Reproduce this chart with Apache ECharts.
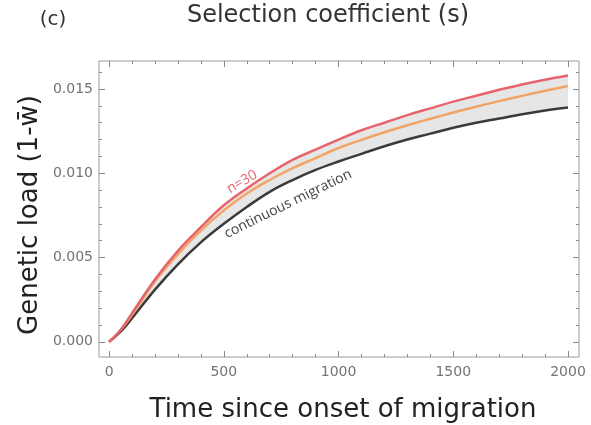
<!DOCTYPE html>
<html><head><meta charset="utf-8">
<script src="https://cdn.jsdelivr.net/npm/echarts@6/dist/echarts.min.js"></script>
<style>html,body{margin:0;padding:0;background:#fff}#c{width:591px;height:425px}</style>
</head><body><div id="c"></div>
<script>
const time = [0,50,100,200,300,400,500,600,700,800,900,1000,1100,1200,1300,1400,1500,1600,1700,1800,1900,2000];
const loadN30 = [0,0.0007,0.0017,0.0037,0.0054,0.0068,0.0081,0.0091,0.0100,0.0108,0.0114,0.0120,0.01255,0.0130,0.01345,0.01385,0.01425,0.0146,0.01495,0.01527,0.01555,0.0158];
const loadMid = [0,0.0007,0.0016,0.0036,0.0052,0.0066,0.0078,0.0088,0.0096,0.0103,0.0109,0.0115,0.01198,0.01243,0.01285,0.01323,0.0136,0.01395,0.01428,0.01459,0.01489,0.01518];
const loadCont = [0,0.0006,0.0014,0.0031,0.0046,0.0059,0.0070,0.0080,0.0089,0.0096,0.0102,0.0107,0.01115,0.0116,0.0120,0.01235,0.0127,0.0130,0.01325,0.0135,0.01372,0.0139];
const xTicks = [0,500,1000,1500,2000];
const yTicks = [0,0.005,0.010,0.015];

const xMinor = []; for (let v = 0; v <= 2000; v += 100) xMinor.push(v);
const yMinor = []; for (let i = 0; i <= 16; i++) yMinor.push(+(i*0.001).toFixed(3));

const pairs = (ys) => time.map((t,i)=>[t, ys[i]]);

const tickStyle = {color:'#8a8a8a', width:1};
function xAx(pos, vals, len, labels){
  return {type:'value', position:pos, min:-44, max:2048,
    axisLine:{show:false, onZero:false}, splitLine:{show:false},
    axisTick:{show:true, inside:true, length:len, customValues:vals, lineStyle:tickStyle},
    axisLabel:{show:labels, customValues:xTicks, color:'#737373', fontSize:14, fontFamily:'DejaVu Sans', margin:8,
      formatter:(v)=>String(v)}};
}
function yAx(pos, vals, len, labels){
  return {type:'value', position:pos, min:-0.0009, max:0.01666,
    axisLine:{show:false, onZero:false}, splitLine:{show:false},
    axisTick:{show:true, inside:true, length:len, customValues:vals, lineStyle:tickStyle},
    axisLabel:{show:labels, customValues:yTicks, color:'#737373', fontSize:14, fontFamily:'DejaVu Sans', margin:6,
      formatter:(v)=>v.toFixed(3)}};
}

const chart = echarts.init(document.getElementById('c'), null, {renderer:'canvas'});
chart.setOption({
  animation:false,
  backgroundColor:'#fff',
  grid:{left:99, right:12, top:61, bottom:68, show:true, borderColor:'#9a9a9a', borderWidth:1, backgroundColor:'transparent'},
  xAxis:[xAx('bottom', xTicks, 6, true), xAx('bottom', xMinor, 3, false), xAx('top', xTicks, 6, false), xAx('top', xMinor, 3, false)],
  yAxis:[yAx('left', yTicks, 6, true), yAx('left', yMinor, 3, false), yAx('right', yTicks, 6, false), yAx('right', yMinor, 3, false)],
  series:[
    {type:'line', data:pairs(loadN30), smooth:0.4, symbol:'none', lineStyle:{opacity:0}, areaStyle:{color:'#e6e6e6', opacity:1, origin:0}, silent:true, z:1},
    {type:'line', data:pairs(loadCont), smooth:0.4, symbol:'none', lineStyle:{opacity:0}, areaStyle:{color:'#ffffff', opacity:1, origin:0}, silent:true, z:1},
    {type:'line', data:pairs(loadCont), smooth:0.4, symbol:'none', lineStyle:{color:'#3a3a3a', width:2.5}, z:3},
    {type:'line', data:pairs(loadMid), smooth:0.4, symbol:'none', lineStyle:{color:'#f2a466', width:2.5}, z:3},
    {type:'line', data:pairs(loadN30), smooth:0.4, symbol:'none', lineStyle:{color:'#e6646c', width:2.5}, z:4}
  ],
  graphic:[
    {type:'text', x:328, y:16, style:{text:'Selection coefficient (s)', fill:'#333', font:'24px "DejaVu Sans"', align:'center', verticalAlign:'middle'}},
    {type:'text', x:53, y:20, style:{text:'(c)', fill:'#333', font:'20px "DejaVu Sans"', align:'center', verticalAlign:'middle'}},
    {type:'text', x:343, y:410, style:{text:'Time since onset of migration', fill:'#222', font:'26px "DejaVu Sans"', align:'center', verticalAlign:'middle'}},
    {type:'text', x:30, y:215, rotation:Math.PI/2, style:{text:'Genetic load (1-w\u0304)', fill:'#222', font:'26px "DejaVu Sans"', align:'center', verticalAlign:'middle'}},
    {type:'text', x:242, y:182, rotation:30*Math.PI/180, style:{text:'n=30', fill:'#e6646c', font:'14px "Open Sans"', align:'center', verticalAlign:'middle'}, z:10},
    {type:'text', x:288, y:204, rotation:26*Math.PI/180, style:{text:'continuous migration', fill:'#444', font:'14px "Open Sans"', align:'center', verticalAlign:'middle'}, z:10}
  ]
});
</script></body></html>
